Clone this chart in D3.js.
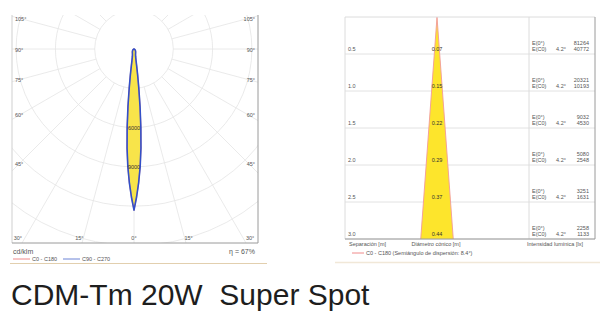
<!DOCTYPE html>
<html>
<head>
<meta charset="utf-8">
<script src="https://cdn.jsdelivr.net/npm/d3@7"></script>
<style>
  body { margin: 0; background: #fff; }
  svg { display: block; font-family: "Liberation Sans", Arial, sans-serif; }
  .tiny { font-size: 5.5px; fill: #555; }
  .grid { stroke: #e4e4e4; stroke-width: 0.8; fill: none; }
</style>
</head>
<body>
<script>
// polar diagram data (cd/klm)
const polarAngles  = [0, 1, 2, 3, 4, 5, 6, 7, 8, 9, 10, 12, 15, 20, 30, 45, 60, 75, 90];
const intensityC0  = [12300, 11300, 10200, 9000, 7600, 6000, 4400, 3000, 2000, 1300, 900, 600, 450, 350, 250, 150, 80, 30, 0];
const intensityC90 = [12300, 11300, 10200, 9000, 7600, 6000, 4400, 3000, 2000, 1300, 900, 600, 450, 350, 250, 150, 80, 30, 0];
const ringValues = [3000, 6000, 9000, 12000, 15000];
const ringLabels = [6000, 9000];
const sideLabels = [105, 90, 75, 60, 45];
const bottomLabels = [30, 15, 0, 15, 30];
const efficiency = "η = 67%";

// cone diagram data
const distances = [0.5, 1.0, 1.5, 2.0, 2.5, 3.0];
const coneDiameters = [0.07, 0.15, 0.22, 0.29, 0.37, 0.44];
const illumAxis = [81264, 20321, 9032, 5080, 3251, 2258];
const illumEdge = [40772, 10193, 4530, 2548, 1631, 1133];
const halfAngle = "4.2°";
const beamAngle = "8.4°";

const svg = d3.select("body").append("svg")
  .attr("width", 600)
  .attr("height", 326);

// ---------- polar chart ----------
let box = {left: 12, right: 258, top: 15, bottom: 243};
let cx = 134, cy = 49;

let r = d3.scaleLinear().domain([0, 3000]).range([0, 39.3]);

svg.append("clipPath").attr("id", "pclip")
  .append("rect")
  .attr("x", box.left).attr("y", box.top)
  .attr("width", box.right - box.left).attr("height", box.bottom - box.top);

let polar = svg.append("g").attr("clip-path", "url(#pclip)");
let pg = polar.append("g").attr("transform", "translate(" + cx + "," + cy + ")");

pg.selectAll(".ring").data(ringValues).enter()
  .append("circle")
  .attr("class", "grid")
  .attr("r", d => r(d));

let spokes = d3.range(0, 360, 15);
pg.selectAll(".spoke").data(spokes).enter()
  .append("line")
  .attr("class", "grid")
  .attr("x1", d => r(ringValues[0]) * Math.sin(d * Math.PI / 180))
  .attr("y1", d => r(ringValues[0]) * Math.cos(d * Math.PI / 180))
  .attr("x2", d => 400 * Math.sin(d * Math.PI / 180))
  .attr("y2", d => 400 * Math.cos(d * Math.PI / 180));

// mirror the half curve so it runs C180 -> C0 through the center
function fullCurve(vals) {
  let pts = [];
  for (let i = polarAngles.length - 1; i > 0; i--) pts.push([-polarAngles[i], vals[i]]);
  for (let i = 0; i < polarAngles.length; i++) pts.push([polarAngles[i], vals[i]]);
  return pts;
}

let radial = d3.lineRadial()
  .angle(d => Math.PI - d[0] * Math.PI / 180)
  .radius(d => r(d[1]))
  .curve(d3.curveLinearClosed);

pg.append("path")
  .attr("d", radial(fullCurve(intensityC0)))
  .attr("fill", "#f8e44a")
  .attr("stroke", "#f08a8a")
  .attr("stroke-width", 1.2)
  .attr("stroke-linejoin", "round");

pg.append("path")
  .attr("d", radial(fullCurve(intensityC90)))
  .attr("fill", "none")
  .attr("stroke", "#3350c8")
  .attr("stroke-width", 1.6)
  .attr("stroke-linejoin", "round");

pg.selectAll(".rlab").data(ringLabels).enter()
  .append("text")
  .attr("class", "tiny")
  .attr("x", 0)
  .attr("y", d => r(d) + 2)
  .attr("text-anchor", "middle")
  .style("fill", "#333")
  .text(d => d);

// frame
svg.append("line").attr("x1", box.left).attr("x2", box.left)
  .attr("y1", box.top).attr("y2", box.bottom).attr("stroke", "#cfcfcf");
svg.append("line").attr("x1", box.right).attr("x2", box.right)
  .attr("y1", box.top).attr("y2", box.bottom).attr("stroke", "#9a9a9a");
svg.append("line").attr("x1", box.left).attr("x2", box.right)
  .attr("y1", box.bottom).attr("y2", box.bottom).attr("stroke", "#9a9a9a");

// angle labels
sideLabels.forEach(function(a) {
  let t = a * Math.PI / 180;
  let yy = cy + 114 * Math.cos(t) / Math.sin(t) + 2.5;
  svg.append("text").attr("class", "tiny").attr("x", box.left + 3).attr("y", yy).text(a + "°");
  svg.append("text").attr("class", "tiny").attr("x", box.right - 3).attr("y", yy)
    .attr("text-anchor", "end").text(a + "°");
});
bottomLabels.forEach(function(a, i) {
  let t = a * Math.PI / 180;
  let side = i < 2 ? -1 : (i > 2 ? 1 : 0);
  let xx = cx + side * (189 * Math.tan(t) + 4 + (a === 30 ? 3 : 0));
  svg.append("text").attr("class", "tiny").attr("x", xx).attr("y", 240)
    .attr("text-anchor", "middle").text(a + "°");
});

svg.append("text").attr("x", 13).attr("y", 254)
  .style("font-size", "7px").style("fill", "#555").text("cd/klm");
svg.append("text").attr("x", 255).attr("y", 254).attr("text-anchor", "end")
  .style("font-size", "7px").style("fill", "#555").text(efficiency);

svg.append("line").attr("x1", 13).attr("x2", 30).attr("y1", 259).attr("y2", 259)
  .attr("stroke", "#f08a8a").attr("stroke-width", 1);
svg.append("text").attr("class", "tiny").attr("x", 32).attr("y", 261).text("C0 - C180");
svg.append("line").attr("x1", 63).attr("x2", 80).attr("y1", 259).attr("y2", 259)
  .attr("stroke", "#6d84d6").attr("stroke-width", 1);
svg.append("text").attr("class", "tiny").attr("x", 82).attr("y", 261).text("C90 - C270");

svg.append("line").attr("x1", 10).attr("x2", 267).attr("y1", 263.5).attr("y2", 263.5)
  .attr("stroke", "#e2cfae").attr("stroke-width", 1.2);

// ---------- cone chart ----------
let cbox = {left: 345, right: 595, top: 17, bottom: 239, split: 529};
let y = d3.scaleLinear().domain([0, 3]).range([cbox.top, cbox.bottom]);
let x = d3.scaleLinear().domain([-1, 1]).range([437 - 74, 437 + 74]);

svg.selectAll(".hline").data(distances).enter()
  .append("line")
  .attr("x1", cbox.left).attr("x2", cbox.right)
  .attr("y1", d => y(d)).attr("y2", d => y(d))
  .attr("stroke", "#e2e2e2");

let last = coneDiameters[coneDiameters.length - 1];
let maxD = distances[distances.length - 1];
let cone = [[0, 0], [-last / 2, maxD], [last / 2, maxD]];
svg.append("path")
  .attr("d", d3.line().x(d => x(d[0])).y(d => y(d[1]))(cone) + "Z")
  .attr("fill", "#fde52c")
  .attr("stroke", "none");
svg.append("path")
  .attr("d", d3.line().x(d => x(d[0])).y(d => y(d[1]))([cone[1], cone[0], cone[2]]))
  .attr("fill", "none")
  .attr("stroke", "#f29a9a")
  .attr("stroke-width", 0.9);

// frame
svg.append("line").attr("x1", cbox.left).attr("x2", cbox.right)
  .attr("y1", cbox.top).attr("y2", cbox.top).attr("stroke", "#dcdcdc");
svg.append("line").attr("x1", cbox.left).attr("x2", cbox.left)
  .attr("y1", cbox.top).attr("y2", cbox.bottom).attr("stroke", "#dcdcdc");
svg.append("line").attr("x1", cbox.split).attr("x2", cbox.split)
  .attr("y1", cbox.top).attr("y2", cbox.bottom).attr("stroke", "#dcdcdc");
svg.append("line").attr("x1", cbox.right).attr("x2", cbox.right)
  .attr("y1", cbox.top).attr("y2", cbox.bottom).attr("stroke", "#9a9a9a");
svg.append("line").attr("x1", cbox.left).attr("x2", cbox.right)
  .attr("y1", cbox.bottom).attr("y2", cbox.bottom).attr("stroke", "#9a9a9a");

let f1 = d3.format(".1f"), f2 = d3.format(".2f");
distances.forEach(function(d, i) {
  let base = y(d);
  svg.append("text").attr("class", "tiny").attr("x", 348).attr("y", base - 3).text(f1(d));
  svg.append("text").attr("class", "tiny").attr("x", x(0)).attr("y", base - 3)
    .attr("text-anchor", "middle").style("fill", "#333").text(f2(coneDiameters[i]));
  svg.append("text").attr("class", "tiny").attr("x", 532).attr("y", base - 9.5).text("E(0°)");
  svg.append("text").attr("class", "tiny").attr("x", 532).attr("y", base - 3).text("E(C0)");
  svg.append("text").attr("class", "tiny").attr("x", 561).attr("y", base - 3)
    .attr("text-anchor", "middle").text(halfAngle);
  svg.append("text").attr("class", "tiny").attr("x", 589).attr("y", base - 9.5)
    .attr("text-anchor", "end").text(illumAxis[i]);
  svg.append("text").attr("class", "tiny").attr("x", 589).attr("y", base - 3)
    .attr("text-anchor", "end").text(illumEdge[i]);
});

svg.append("text").attr("class", "tiny").attr("x", 349).attr("y", 246).text("Separación [m]");
svg.append("text").attr("class", "tiny").attr("x", 436).attr("y", 246)
  .attr("text-anchor", "middle").text("Diámetro cónico [m]");
svg.append("text").attr("class", "tiny").attr("x", 527).attr("y", 246).text("Intensidad lumínica [lx]");
svg.append("line").attr("x1", 352).attr("x2", 364).attr("y1", 253).attr("y2", 253)
  .attr("stroke", "#f08a8a").attr("stroke-width", 1);
svg.append("text").attr("class", "tiny").attr("x", 366).attr("y", 255)
  .text("C0 - C180 (Semiángulo de dispersión: " + beamAngle + ")");
svg.append("line").attr("x1", 335).attr("x2", 600).attr("y1", 262.5).attr("y2", 262.5)
  .attr("stroke", "#f1e8d8").attr("stroke-width", 1.5);

// ---------- title ----------
svg.append("text")
  .attr("x", 11).attr("y", 305)
  .style("font-size", "30px")
  .style("fill", "#1e1e1e")
  .style("white-space", "pre")
  .text("CDM-Tm 20W  Super Spot");
</script>
</body>
</html>
